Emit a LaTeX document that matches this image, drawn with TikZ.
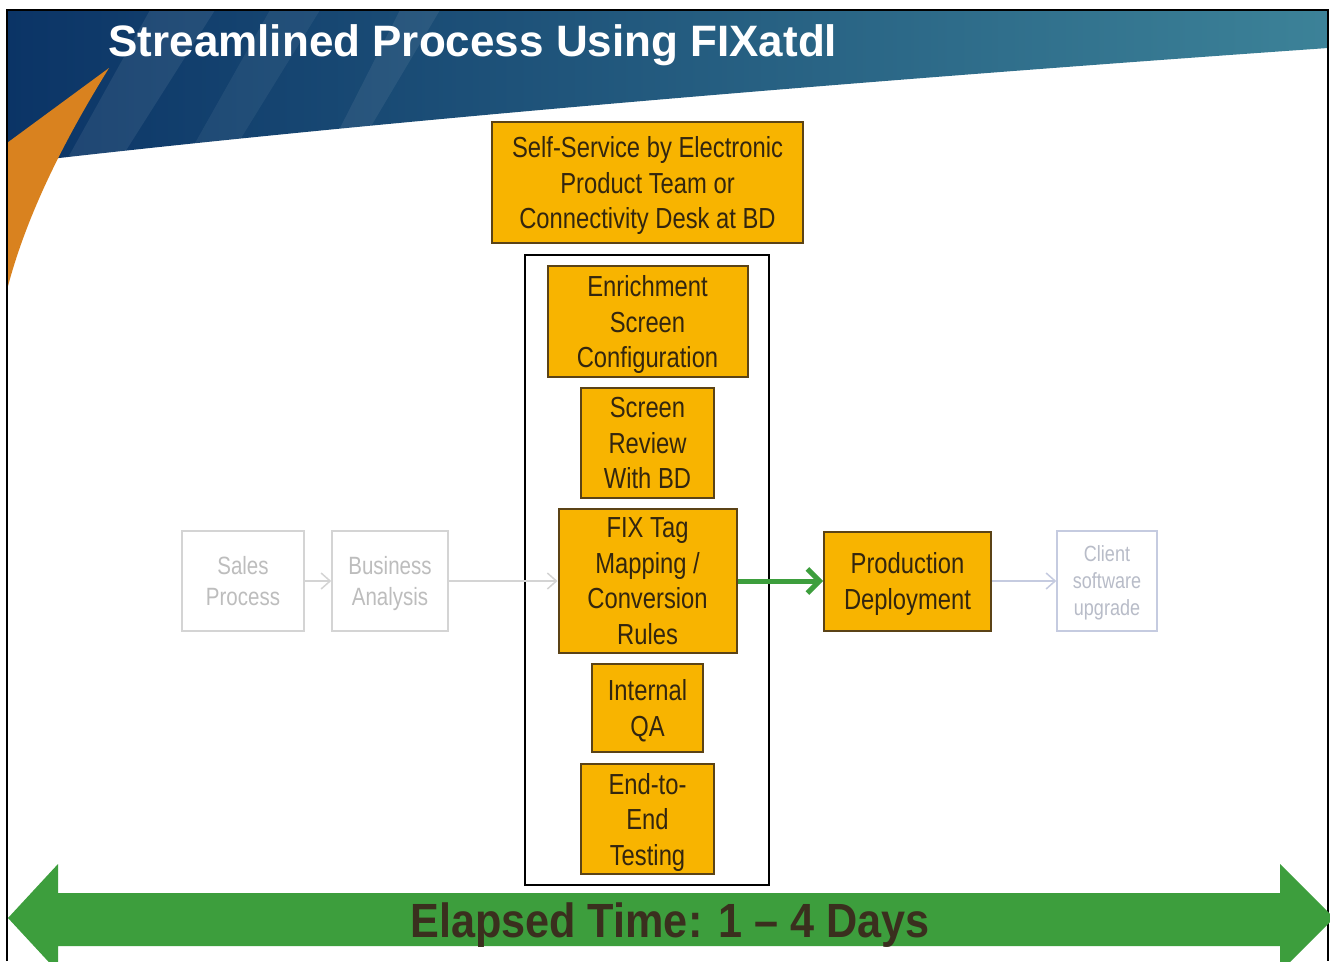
\documentclass[tikz,border=0pt]{standalone}
\usepackage{fontspec}
\setmainfont{Liberation Sans}
\newfontfamily\narrowfont[FakeStretch=0.82]{Liberation Sans}
\newfontfamily\elapsedfont[FakeStretch=0.9]{Liberation Sans}
\usetikzlibrary{arrows.meta}

\definecolor{boxorange}{HTML}{F8B400}
\definecolor{boxedge}{HTML}{5B4316}
\definecolor{boxtext}{HTML}{33260F}
\definecolor{fadeedge}{HTML}{D4D4D4}
\definecolor{fadetext}{HTML}{BDBDBD}
\definecolor{clientedge}{HTML}{C5CBE0}
\definecolor{clienttext}{HTML}{B8BCC8}
\definecolor{bannerleft}{HTML}{0B3466}
\definecolor{bannerright}{HTML}{3C8298}
\definecolor{swoosh}{HTML}{D9821F}
\definecolor{arrowgreen}{HTML}{3D9E3D}
\definecolor{elapsedtext}{HTML}{3A2F1E}

\tikzset{
  procbox/.style={draw=boxedge, line width=2pt, fill=boxorange, text=boxtext,
    align=center, inner sep=0pt, text depth=0pt,
    font=\narrowfont\fontsize{29}{35.5}\selectfont},
  fadebox/.style={draw=fadeedge, line width=1.5pt, fill=white, text=fadetext,
    align=center, inner sep=0pt, text depth=0pt,
    font=\narrowfont\fontsize{25}{31}\selectfont},
  clientbox/.style={fadebox, draw=clientedge, text=clienttext,
    font=\narrowfont\fontsize{22}{27}\selectfont},
  fadearrow/.style={draw=fadeedge, line width=1.5pt,
    -{Straight Barb[length=9pt,width=16pt,line width=1.5pt]}},
  greenarrow/.style={draw=arrowgreen, line width=5pt,
    -{Straight Barb[length=12pt,width=24pt,line width=5pt]}}
}

\begin{document}
\begin{tikzpicture}[x=1pt,y=-1pt]

\newcommand\MID{647.5}
\newcommand\ROW{581}

\useasboundingbox (0,0) rectangle (1330,961);
\clip (0,0) rectangle (1330,961);
\fill[white] (0,0) rectangle (1330,961);

%% banner
\shade[left color=bannerleft, right color=bannerright]
  (7,10) -- (1328,10) -- (1328,48) .. controls (900,78) and (400,118) .. (7,164) -- cycle;
\fill[white, opacity=0.08] (150,10) -- (215,10) -- (120,160) -- (65,163) -- cycle;
\fill[white, opacity=0.06] (270,10) -- (320,10) -- (235,148) -- (190,152) -- cycle;
\fill[white, opacity=0.07] (400,10) -- (440,10) -- (370,128) -- (338,132) -- cycle;
\fill[swoosh] (109,68) -- (7,143) -- (7,290) .. controls (30,200) and (80,115) .. (109,68) -- cycle;
\node[anchor=west, text=white, font=\bfseries\fontsize{44}{50}\selectfont]
  (title) at (105,45) {Streamlined Process Using FIXatdl};

%% frame
\draw[line width=1.2pt] (7,961) -- (7,10) -- (1328,10) -- (1328,961);

%% elapsed time
\fill[arrowgreen] (8,918) -- (58,864) -- (58,893) -- (1280,893) -- (1280,864)
  -- (1334,918) -- (1280,972) -- (1280,946) -- (58,946) -- (58,972) -- cycle;
\node[text=elapsedtext, font=\elapsedfont\bfseries\fontsize{48}{52}\selectfont]
  (elapsed) at (670,925) {Elapsed Time: 1 \textendash{} 4 Days};

%% process boxes
\node[procbox, minimum width=311pt, minimum height=121pt] (selfservice) at (\MID,182.5)
  {Self-Service by Electronic\\Product Team or\\Connectivity Desk at BD};

\draw[line width=1.5pt, fill=white] (525,255) rectangle (769,885);

\node[procbox, minimum width=200pt, minimum height=111pt] (enrich) at (\MID,321.5)
  {Enrichment\\Screen\\Configuration};
\node[procbox, minimum width=133pt, minimum height=110pt] (review) at (\MID,443)
  {Screen\\Review\\With BD};
\node[procbox, minimum width=178pt, minimum height=144pt] (fixtag) at (\MID,\ROW)
  {FIX Tag\\Mapping /\\Conversion\\Rules};
\node[procbox, minimum width=111pt, minimum height=88pt] (qa) at (\MID,708)
  {Internal\\QA};
\node[procbox, minimum width=133pt, minimum height=110pt] (endtoend) at (\MID,819)
  {End-to-\\End\\Testing};

\node[procbox, minimum width=167pt, minimum height=99pt] (production) at (907.5,\ROW)
  {Production\\Deployment};

%%
\node[fadebox, minimum width=122pt, minimum height=100pt] (sales) at (243,\ROW)
  {Sales\\Process};
\node[fadebox, minimum width=116pt, minimum height=100pt] (business) at (390,\ROW)
  {Business\\Analysis};
\node[clientbox, minimum width=100pt, minimum height=100pt] (client) at (1107,\ROW)
  {Client\\software\\upgrade};

%% connectors
\draw[fadearrow] (sales) -- (business);
\draw[fadearrow] (business) -- (fixtag);
\draw[greenarrow] (fixtag) -- (production);
\draw[fadearrow, draw=clientedge] (production) -- (client);

\end{tikzpicture}
\end{document}
